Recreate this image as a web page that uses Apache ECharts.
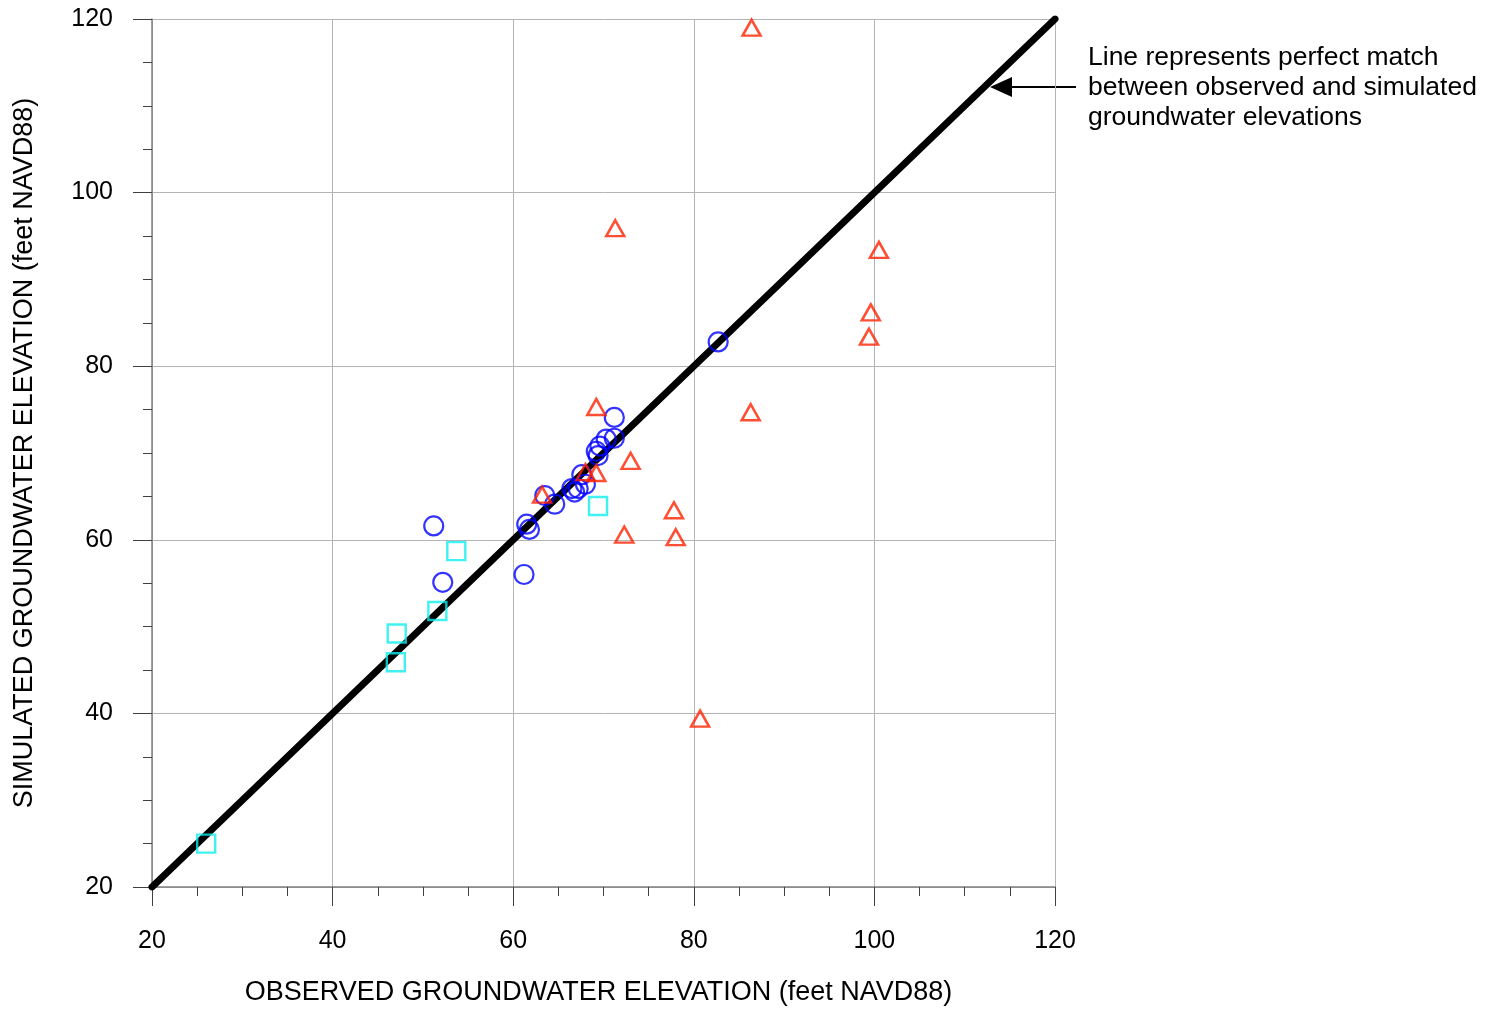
<!DOCTYPE html>
<html>
<head>
<meta charset="utf-8">
<script src="https://cdn.jsdelivr.net/npm/echarts@6/dist/echarts.min.js"></script>
<style>html,body{margin:0;padding:0;background:#fff;overflow:hidden;}#chart{width:1503px;height:1011px;}</style>
</head>
<body>
<div id="chart"></div>
<script>
// Data (observed, simulated) in feet NAVD88
const circleObs = [82.7, 71.2, 71.2, 70.3, 69.6, 69.2, 69.4, 67.6, 68.0, 67.2, 66.8, 66.5, 63.5, 64.6, 61.5, 61.8, 51.2, 52.2, 61.2];
const circleSim = [82.8, 74.1, 71.7, 71.6, 70.8, 70.2, 69.7, 67.5, 66.4, 65.9, 65.5, 65.9, 65.1, 64.1, 61.8, 61.2, 61.6, 55.1, 56.0];
const triObs = [86.4, 71.3, 100.5, 99.6, 99.4, 69.2, 86.3, 73.0, 68.0, 69.2, 63.2, 77.8, 72.3, 78.0, 80.7];
const triSim = [119.0, 95.9, 93.4, 86.2, 83.4, 75.3, 74.7, 69.1, 67.8, 67.7, 65.2, 63.4, 60.6, 60.3, 39.4];
const sqObs = [69.4, 53.7, 51.6, 47.1, 47.0, 26.0];
const sqSim = [63.9, 58.7, 51.8, 49.2, 45.9, 25.0];
const lineObs = [20, 120];
const lineSim = [20, 120];
const xTitle = 'OBSERVED GROUNDWATER ELEVATION (feet NAVD88)';
const yTitle = 'SIMULATED GROUNDWATER ELEVATION (feet NAVD88)';
const noteLines = ['Line represents perfect match', 'between observed and simulated', 'groundwater elevations'];

const zip = (a, b) => a.map((v, i) => [v, b[i]]);
const FONT = 'Liberation Sans, Arial, sans-serif';

const chart = echarts.init(document.getElementById('chart'));
const axisCommon = {
  min: 20, max: 120, interval: 20,
  axisLine: { show: true, onZero: false, lineStyle: { color: '#808080', width: 1.5 } },
  axisTick: { show: true, inside: false, length: 19, lineStyle: { color: '#404040', width: 1 } },
  minorTick: { show: true, splitNumber: 4, length: 9, lineStyle: { color: '#404040', width: 1 } },
  splitLine: { show: true, lineStyle: { color: '#b4b4b4', width: 1 } },
  axisLabel: { color: '#000', fontSize: 25, fontFamily: FONT },
  nameTextStyle: { color: '#000', fontSize: 27, fontFamily: FONT },
  nameLocation: 'middle'
};
chart.setOption({
  animation: false,
  backgroundColor: '#fff',
  grid: { left: 152, right: 448, top: 19, bottom: 119 },
  xAxis: Object.assign({}, axisCommon, {
    type: 'value', name: xTitle, nameGap: 92,
    nameTextStyle: Object.assign({}, axisCommon.nameTextStyle, { padding: [0, 10, 0, 0] }),
    axisLabel: Object.assign({}, axisCommon.axisLabel, { margin: 42 })
  }),
  yAxis: Object.assign({}, axisCommon, {
    type: 'value', name: yTitle, nameGap: 114,
    axisLabel: Object.assign({}, axisCommon.axisLabel, { margin: 39 })
  }),
  series: [
    {
      type: 'line', data: zip(lineObs, lineSim), symbol: 'none', z: 3,
      lineStyle: { color: '#000', width: 7, cap: 'round' }
    },
    {
      type: 'scatter', data: zip(circleObs, circleSim), symbol: 'circle', symbolSize: 19, z: 4,
      itemStyle: { color: 'rgba(0,0,0,0)', borderColor: '#0000ff', borderWidth: 2.2 }
    },
    {
      type: 'scatter', data: zip(triObs, triSim), symbol: 'triangle', symbolSize: [18, 16], z: 5,
      itemStyle: { color: 'rgba(0,0,0,0)', borderColor: '#ff2200', borderWidth: 2.5 }
    },
    {
      type: 'scatter', data: zip(sqObs, sqSim), symbol: 'rect', symbolSize: 18, z: 4,
      itemStyle: { color: 'rgba(0,0,0,0)', borderColor: '#10eeee', borderWidth: 2.4 }
    }
  ],
  graphic: [
    { type: 'line', shape: { x1: 1005, y1: 87, x2: 1076, y2: 87 }, style: { stroke: '#000', lineWidth: 2 } },
    { type: 'polygon', shape: { points: [[990, 87], [1012, 77], [1012, 97]] }, style: { fill: '#000' } },
    { type: 'text', left: 1088, top: 43, style: { text: noteLines.join('\n'), font: '26.5px ' + FONT, fill: '#000', lineHeight: 30 } }
  ]
});
</script>
</body>
</html>
